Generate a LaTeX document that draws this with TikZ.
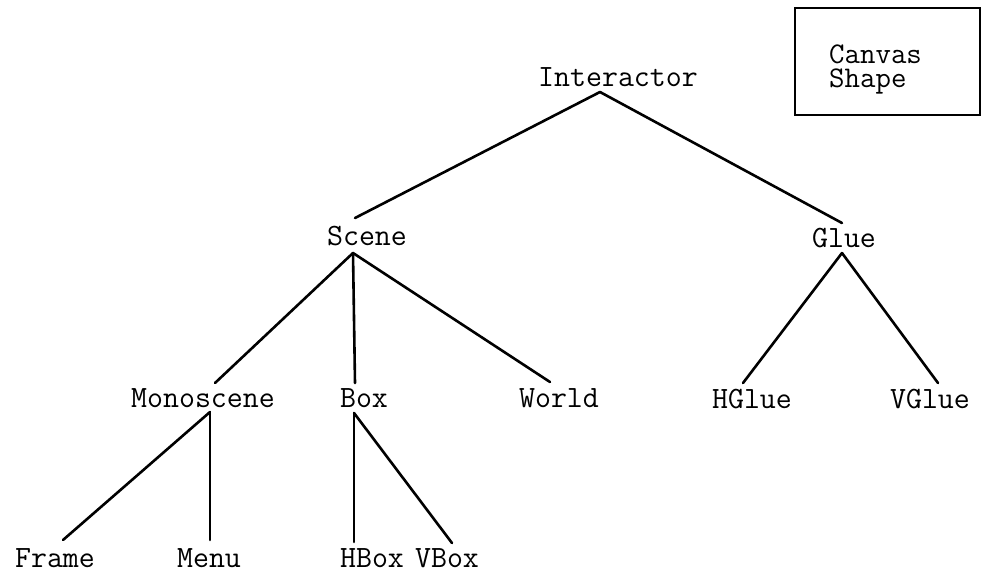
\documentclass[tikz,border=0pt]{standalone}
\begin{document}
\begin{tikzpicture}[x=1pt,y=-1pt,
  lbl/.style={inner sep=0pt,anchor=base,font=\ttfamily\fontsize{31}{24}\selectfont},
  edge/.style={line width=2.6pt,line cap=round}]
\useasboundingbox (0,0) rectangle (983,573);
% labels
\node[lbl] (interactor) at (618,86) {Interactor};
\node[lbl] (scene) at (367,245) {Scene};
\node[lbl] (glue) at (844,247) {Glue};
\node[lbl] (monoscene) at (203,407) {Monoscene};
\node[lbl] (box) at (364,407) {Box};
\node[lbl] (world) at (559,407) {World};
\node[lbl] (hglue) at (752,408) {HGlue};
\node[lbl] (vglue) at (930,408) {VGlue};
\node[lbl] (frame) at (55,567) {Frame};
\node[lbl] (menu) at (209,567) {Menu};
\node[lbl] (hbox) at (372,567) {HBox};
\node[lbl] (vbox) at (447,567) {VBox};
% legend box
\node[draw,line width=2pt,minimum width=185pt,minimum height=107pt,inner sep=0pt] (canvasbox) at (887.5,61.5) {};
\node[lbl,anchor=base west,align=left,font=\ttfamily\fontsize{30}{24}\selectfont] (canvastext) at (829,87) {Canvas\\Shape};
% connectors
\draw[edge] ([shift={(-18,6)}]interactor.base) -- ([shift={(-12,-27)}]scene.base);
\draw[edge] ([shift={(-18,6)}]interactor.base) -- ([shift={(-2,-24)}]glue.base);
\draw[edge] ([shift={(-14,8)}]scene.base) -- ([shift={(12,-24)}]monoscene.base);
\draw[edge] ([shift={(-14,8)}]scene.base) -- ([shift={(-9,-24)}]box.base);
\draw[edge] ([shift={(-14,8)}]scene.base) -- ([shift={(-9,-25)}]world.base);
\draw[edge] ([shift={(-2,6)}]glue.base) -- ([shift={(-9,-25)}]hglue.base);
\draw[edge] ([shift={(-2,6)}]glue.base) -- ([shift={(8,-25)}]vglue.base);
\draw[edge] ([shift={(7,5)}]monoscene.base) -- ([shift={(8,-27)}]frame.base);
\draw[edge] ([shift={(7,5)}]monoscene.base) -- ([shift={(1,-27)}]menu.base);
\draw[edge] ([shift={(-10,6)}]box.base) -- ([shift={(-18,-25)}]hbox.base);
\draw[edge] ([shift={(-10,6)}]box.base) -- ([shift={(5,-24)}]vbox.base);
\end{tikzpicture}
\end{document}
